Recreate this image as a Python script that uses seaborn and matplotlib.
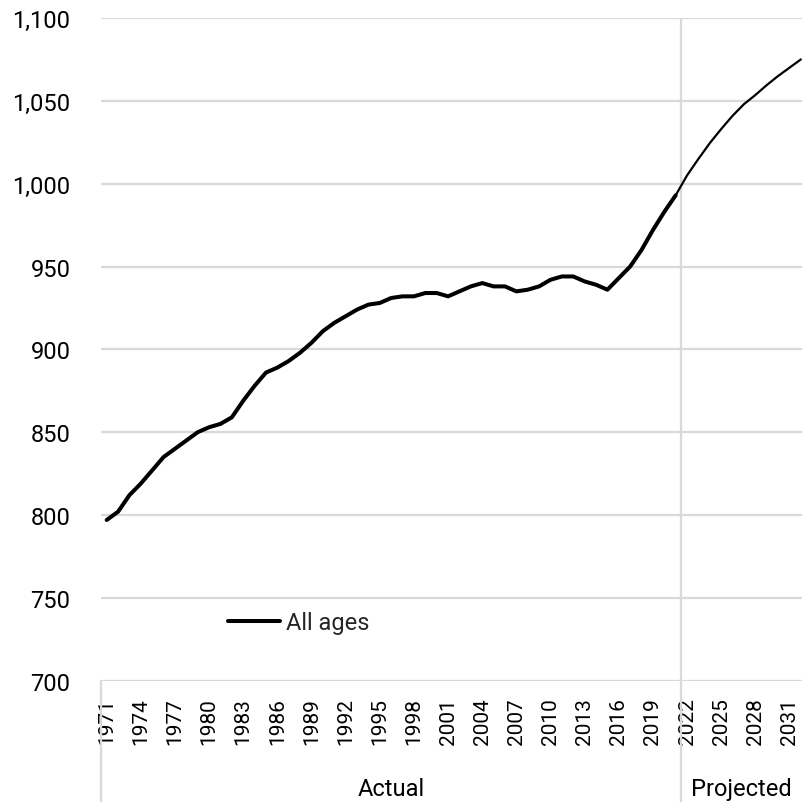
import numpy as np
import pandas as pd
import seaborn as sns
import matplotlib.pyplot as plt
from matplotlib.lines import Line2D

# Actual series, 1971-2021
actual_years = list(range(1971, 2022))
actual_values = [
    797, 802, 812, 819, 827, 835, 840, 845, 850, 853,
    855, 859, 869, 878, 886, 889, 893, 898, 904, 911,
    916, 920, 924, 927, 928, 931, 932, 932, 934, 934,
    932, 935, 938, 940, 938, 938, 935, 936, 938, 942,
    944, 944, 941, 939, 936, 943, 950, 960, 972, 983, 993,
]

# Projected series, 2021-2032
proj_years = list(range(2021, 2033))
proj_values = [993, 1005, 1015, 1024.5, 1033, 1041, 1048, 1053.5, 1059.5, 1065, 1070, 1075]

tick_years = list(range(1971, 2032, 3))
yticks = [700, 750, 800, 850, 900, 950, 1000, 1050, 1100]
groups = ['Actual', 'Projected']
split_year = 2021.5

sns.set_theme(style='white')
plt.rcParams['font.family'] = ['Roboto', 'DejaVu Sans']

df_act = pd.DataFrame({'year': actual_years, 'value': actual_values})
df_proj = pd.DataFrame({'year': proj_years, 'value': proj_values})

fig = plt.figure(figsize=(8.02, 8.03), dpi=100)
ax = fig.add_axes([101 / 802, 121.3 / 803, 701 / 802, 662.7 / 803])

sns.lineplot(data=df_act, x='year', y='value', ax=ax, color='black', lw=2.9,
             solid_capstyle='round', solid_joinstyle='round', zorder=3)
sns.lineplot(data=df_proj, x='year', y='value', ax=ax, color='black', lw=1.6,
             solid_capstyle='round', zorder=3)

x0, x1 = 1970.5, 2032.1
ax.set_xlim(x0, x1)
ax.set_ylim(700, 1100)
ax.set_yticks(yticks)
ax.set_yticklabels([f'{v:,}' for v in yticks])
ax.set_xticks(tick_years)
ax.set_xticklabels([str(y) for y in tick_years], rotation=90)
ax.tick_params(axis='y', length=0, pad=22, labelsize=17, labelcolor='black')
ax.tick_params(axis='x', length=0, pad=12, labelsize=15, labelcolor='black')
ax.set_xlabel('')
ax.set_ylabel('')

ax.grid(axis='y', color='#d9d9d9', lw=1.6)
for s in ax.spines.values():
    s.set_visible(False)
ax.set_axisbelow(True)

# separator between actual and projected
ax.axvline(split_year, color='#d9d9d9', lw=1.6, zorder=1)

# group separators below the axis
ybot = -(803 - 681.7) / 662.7
for xv in [x0, split_year]:
    ax.add_line(Line2D([xv, xv], [700, 700 + ybot * 400], color='#d9d9d9', lw=1.6,
                       clip_on=False, zorder=1))

ax.text((x0 + split_year) / 2, 700 - 0.162 * 400, groups[0], ha='center', va='center',
        fontsize=17, color='black')
ax.text((split_year + x1) / 2, 700 - 0.162 * 400, groups[1], ha='center', va='center',
        fontsize=17, color='black')

handle = Line2D([], [], color='black', lw=2.9, solid_capstyle='round')
ax.legend([handle], ['All ages'], loc='center left',
          bbox_to_anchor=((228 - 101) / 701, (681.7 - 624) / 662.7),
          frameon=False, fontsize=17, handlelength=2.2, handletextpad=0.25,
          borderpad=0, borderaxespad=0)

fig.savefig('out.png', dpi=100)
